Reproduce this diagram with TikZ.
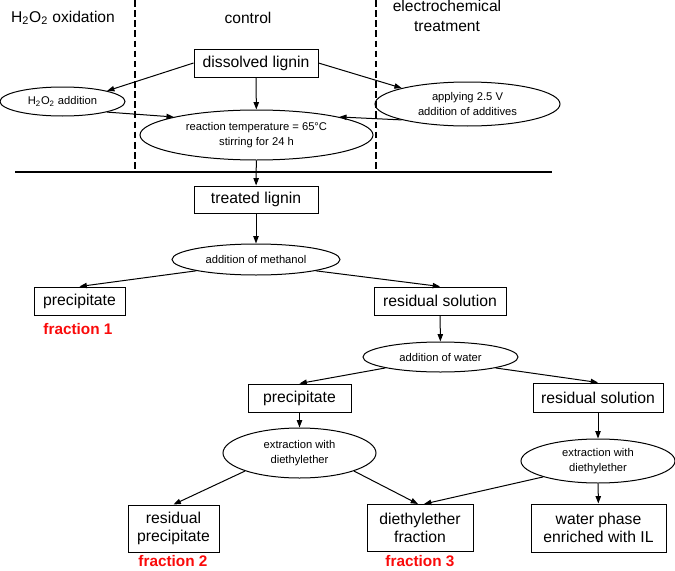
\documentclass[tikz,border=0pt]{standalone}
\usepackage{fontspec}
\usepackage{xcolor}
\usepackage{tikz}
\setmainfont{Liberation Sans}
\usetikzlibrary{shapes.geometric,arrows.meta}
\definecolor{fracred}{RGB}{250, 10, 10}

\tikzset{
  box/.style={draw, rectangle, line width=0.75pt, align=center, inner sep=0pt, font=\fontsize{11.8}{14}\selectfont},
  oval/.style={draw, ellipse, line width=0.75pt, align=center, inner sep=0pt, font=\fontsize{8.4}{11.2}\selectfont},
  heading/.style={align=center, inner sep=0.75pt, font=\fontsize{11.7}{15}\selectfont},
  fraclabel/.style={inner sep=0.75pt, text=fracred, font=\bfseries\fontsize{11.5}{13}\selectfont},
  flow/.style={line width=0.75pt, -{Triangle[length=5.5pt,width=4pt]}},
  sep/.style={line width=1.5pt, dash pattern=on 5pt off 2.6pt},
}

\begin{document}
\begin{tikzpicture}[x=0.75pt,y=0.75pt,yscale=-1,xscale=1]
\useasboundingbox (0,0) rectangle (675,571);

%Straight Lines
\draw [sep] (135,0) -- (135,172) ;
\draw [sep] (376,0) -- (376,172) ;
\draw [line width=1.5pt] (15,172) -- (552,172) ;

% Text Node
\node [heading] (hox) at (63,18) {H\textsubscript{2}O\textsubscript{2} oxidation};
% Text Node
\node [heading] (ctrl) at (248,18) {control};
% Text Node
\node [heading] (elec) at (447,16) {electrochemical\\treatment};

%Shape: Rectangle
\node [box, minimum width=93pt, minimum height=21pt] (dis) at (256,63) {dissolved lignin};
%Shape: Ellipse
\node [oval, minimum width=93.75pt, minimum height=21.75pt] (h2o) at (62.5,101.5) {H\textsubscript{2}O\textsubscript{2} addition};
%Shape: Ellipse
\node [oval, minimum width=138.75pt, minimum height=33pt] (app) at (467.5,104) {applying 2.5 V\\addition of additives};
%Shape: Ellipse
\node [oval, minimum width=174.75pt, minimum height=37.5pt] (rxn) at (256.5,135) {reaction temperature = 65°C\\stirring for 24 h};
%Shape: Rectangle
\node [box, minimum width=93pt, minimum height=20.25pt] (trt) at (256,199.5) {treated lignin};
%Shape: Ellipse
\node [oval, minimum width=126pt, minimum height=23.25pt] (meth) at (256,259.5) {addition of methanol};
%Shape: Rectangle
\node [box, minimum width=68.25pt, minimum height=21pt] (pre1) at (79.5,301) {precipitate};
%Shape: Rectangle
\node [box, minimum width=99pt, minimum height=21pt] (res1) at (440,301) {residual solution};
%Shape: Ellipse
\node [oval, minimum width=116.25pt, minimum height=22.5pt] (wtr) at (440.5,357) {addition of water};
%Shape: Rectangle
\node [box, minimum width=77.25pt, minimum height=21pt] (pre2) at (299.5,398) {precipitate};
%Shape: Rectangle
\node [box, minimum width=97.5pt, minimum height=21.75pt] (res2) at (598,397.5) {residual solution};
%Shape: Ellipse
\node [oval, minimum width=114.75pt, minimum height=37.5pt] (ext1) at (299.5,453) {extraction with\\diethylether};
%Shape: Ellipse
\node [oval, minimum width=115.5pt, minimum height=33pt] (ext2) at (598,461) {extraction with\\diethylether};
%Shape: Rectangle
\node [box, minimum width=68.25pt, minimum height=35.25pt] (rpre) at (173.5,528.5) {residual\\precipitate};
%Shape: Rectangle
\node [box, minimum width=79.5pt, minimum height=35.25pt] (dee) at (420,528) {diethylether\\fraction};
%Shape: Rectangle
\node [box, minimum width=101.25pt, minimum height=36pt] (wat) at (598.5,528) {water phase\\enriched with IL};

% Text Node
\node [fraclabel] (fr1) at (78,329) {fraction 1};
% Text Node
\node [fraclabel] (fr2) at (173,561) {fraction 2};
% Text Node
\node [fraclabel] (fr3) at (420,561) {fraction 3};

%Straight Lines
\draw [flow] (dis.west) -- (h2o.north east) ;
\draw [flow] (dis.east) -- (app.north west) ;
\draw [flow] (dis) -- (rxn) ;
\draw [flow] (h2o.south east) -- (rxn.north west) ;
\draw [flow] (app.south west) -- (rxn.north east) ;
\draw [flow] (rxn) -- (trt) ;
\draw [flow] (trt) -- (meth) ;
\draw [flow] (meth.south west) -- (pre1.north) ;
\draw [flow] (meth.south east) -- (res1.north) ;
\draw [flow] (res1) -- (wtr) ;
\draw [flow] (wtr.south west) -- (pre2.north) ;
\draw [flow] (wtr.south east) -- (res2.north) ;
\draw [flow] (pre2) -- (ext1) ;
\draw [flow] (res2) -- (ext2) ;
\draw [flow] (ext1.south west) -- (rpre.north) ;
\draw [flow] (ext1.south east) -- ([xshift=-1.5pt]dee.north) ;
\draw [flow] (ext2.south west) -- ([xshift=3pt]dee.north) ;
\draw [flow] (ext2) -- (wat) ;

\end{tikzpicture}
\end{document}
